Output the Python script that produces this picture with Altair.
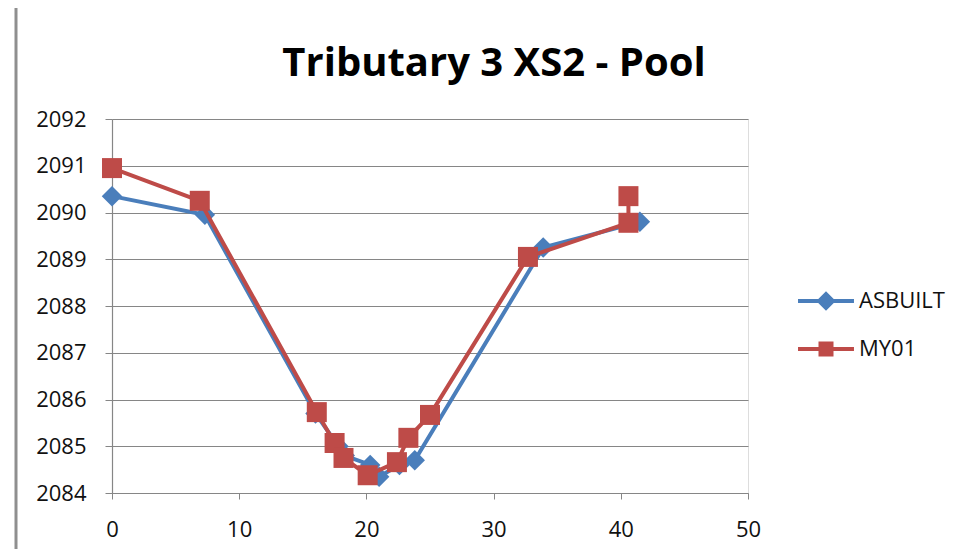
import altair as alt
import pandas as pd

# ---- data ----
asbuilt_x = [0, 7.3, 16.0, 17.8, 18.3, 20.3, 21.0, 22.6, 23.8, 33.9, 41.5]
asbuilt_y = [2090.35, 2089.95, 2085.7, 2085.0, 2084.8, 2084.6, 2084.35, 2084.6, 2084.7, 2089.25, 2089.8]

my01_x = [0, 6.9, 16.1, 17.5, 18.2, 20.1, 22.4, 23.3, 25.0, 32.7, 40.6, 40.6]
my01_y = [2090.95, 2090.25, 2085.73, 2085.07, 2084.75, 2084.38, 2084.66, 2085.18, 2085.67, 2089.05, 2089.78, 2090.35]

series_names = ["ASBUILT", "MY01"]
series_colors = ["#4A7EBB", "#BE4B48"]
x_ticks = [0, 10, 20, 30, 40, 50]
y_ticks = [2084, 2085, 2086, 2087, 2088, 2089, 2090, 2091, 2092]
title_text = "Tributary 3 XS2 - Pool"

rows = []
for i, (x, y) in enumerate(zip(asbuilt_x, asbuilt_y)):
    rows.append({"series": "ASBUILT", "idx": i, "x": x, "y": y})
for i, (x, y) in enumerate(zip(my01_x, my01_y)):
    rows.append({"series": "MY01", "idx": i, "x": x, "y": y})
df = pd.DataFrame(rows)

FONT = "Open Sans"

xenc = alt.X("x:Q", scale=alt.Scale(domain=[0, 50], nice=False),
             axis=alt.Axis(values=x_ticks, grid=False, title=None, domainColor="#868686",
                           tickColor="#868686", tickSize=6, labelFont=FONT, labelFontSize=22,
                           labelColor="#111", labelPadding=20, domainWidth=1.2, format="d",
                           labelFlush=False))
yenc = alt.Y("y:Q", scale=alt.Scale(domain=[2084, 2092], nice=False, zero=False),
             axis=alt.Axis(values=y_ticks, grid=True, gridColor="#868686", gridWidth=1.2,
                           title=None, domainColor="#868686", tickColor="#868686", tickSize=7,
                           labelFont=FONT, labelFontSize=22, labelColor="#111",
                           labelPadding=19, domainWidth=1.2, format="d", labelFlush=False))

base = alt.Chart(df)

def series_layers(name, color, shape, size):
    d = base.transform_filter(alt.datum.series == name)
    line = d.mark_line(color=color, strokeWidth=4).encode(x=xenc, y=yenc, order="idx:Q")
    pts = d.mark_point(shape=shape, filled=True, color=color, size=size, opacity=1).encode(
        x=xenc, y=yenc)
    return [line, pts]

layers = []
layers += series_layers("ASBUILT", series_colors[0], "diamond", 420)
layers += series_layers("MY01", series_colors[1], "square", 400)

# legend-only layer (no marks drawn): line + marker symbols like Excel
sq_path = "M-3.73,-0.27H3.73V0.27H-3.73Z M-1,-1H1V1H-1Z"
dm_path = "M-3.73,-0.27H3.73V0.27H-3.73Z M0,-1.3L1.3,0L0,1.3L-1.3,0Z"
leg = dict(title=None, orient="none", legendX=703, legendY=171,
           labelFont=FONT, labelFontSize=22, labelColor="#111",
           symbolSize=225, symbolStrokeWidth=0, labelOffset=22,
           rowPadding=26, symbolOpacity=1)
legend_layer = base.transform_filter("false").mark_point(filled=True).encode(
    fill=alt.Fill("series:N", scale=alt.Scale(domain=series_names, range=series_colors),
                  legend=alt.Legend(**leg)),
    shape=alt.Shape("series:N", scale=alt.Scale(domain=series_names, range=[dm_path, sq_path]),
                    legend=alt.Legend(**leg)),
)

frame = alt.Chart(pd.DataFrame({"a": [0]})).mark_rect(
    fill=None, stroke="#8f8f8f", strokeWidth=3).encode(
    x=alt.value(-96), x2=alt.value(900), y=alt.value(-113), y2=alt.value(480))

title_mark = alt.Chart(pd.DataFrame({"t": [title_text]})).mark_text(
    font=FONT, fontSize=40, fontWeight="bold", color="#000", align="center",
    baseline="alphabetic").encode(text="t:N", x=alt.value(382), y=alt.value(-43))

chart = alt.layer(frame, title_mark, *layers, legend_layer).properties(
    width=636, height=374,
    autosize=alt.AutoSizeParams(type="none"),
    padding={"left": 104, "top": 111, "right": 212, "bottom": 56},
).configure_view(strokeWidth=0).configure(background="white")

chart.save("out.html", embed_options={"renderer": "svg", "actions": False})
